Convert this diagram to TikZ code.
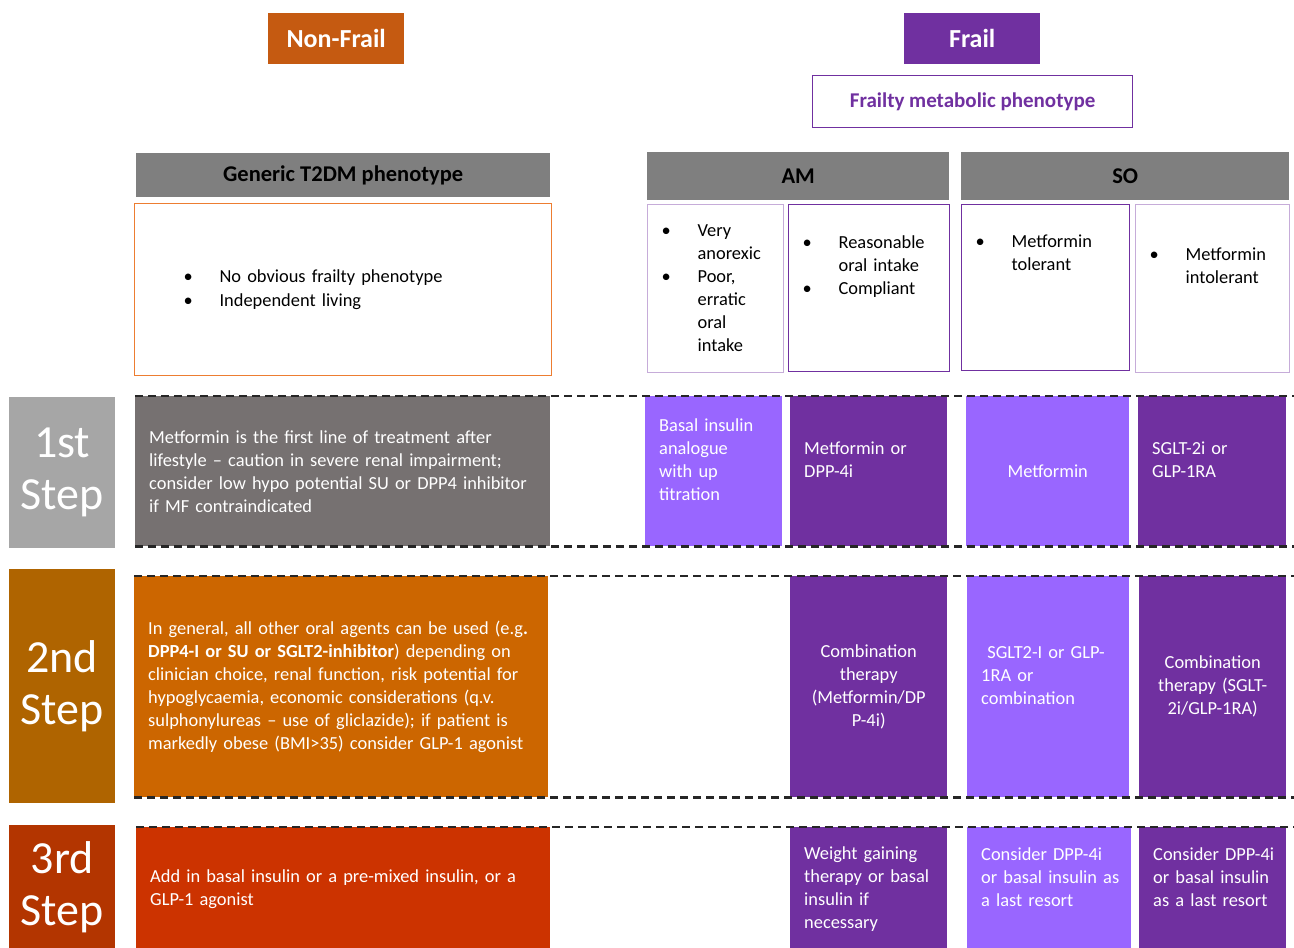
\documentclass[tikz,border=0pt]{standalone}
\usepackage{fontspec}
\setmainfont{Carlito}
\usepackage{tikz}
\usepackage{xcolor}

\definecolor{nfbrown}{HTML}{C55A11}
\definecolor{frailpurple}{HTML}{7030A0}
\definecolor{lightpurple}{HTML}{9966FF}
\definecolor{headgray}{HTML}{7F7F7F}
\definecolor{nfgray}{HTML}{767171}
\definecolor{nforange}{HTML}{CC6600}
\definecolor{nfred}{HTML}{CC3300}
\definecolor{stepgray}{HTML}{A6A6A6}
\definecolor{stepbrown}{HTML}{AF6400}
\definecolor{stepred}{HTML}{B33500}
\definecolor{boxorange}{HTML}{ED7D31}

\hyphenpenalty=10000
\exhyphenpenalty=10000
\newcommand{\bodyfont}{\fontsize{18.4}{23}\selectfont}
\newcommand{\bitem}[1]{\makebox[36pt][l]{\textbullet}#1}
\newcommand{\bcont}[1]{\hspace*{36pt}#1}

\begin{document}
\begin{tikzpicture}[x=1pt,y=-1pt]
\tikzstyle{cell} = [rectangle, anchor=north west, inner xsep=14pt, inner ysep=0pt,
align=left, font=\bodyfont, text=white]
\tikzstyle{light} = [cell, fill=lightpurple]
\tikzstyle{dark} = [cell, fill=frailpurple]
\tikzstyle{head} = [rectangle, anchor=north west, inner sep=0pt, fill=headgray,
font=\bfseries\fontsize{22.5}{27}\selectfont]
\tikzstyle{tag} = [rectangle, anchor=north west, inner sep=0pt, text=white,
font=\bfseries\fontsize{26}{31}\selectfont, minimum width=136pt, minimum height=51pt]
\tikzstyle{stepbox} = [rectangle, anchor=north west, inner sep=0pt, align=center, text=white,
font=\fontsize{46}{52}\selectfont, minimum width=106pt]
\tikzstyle{pheno} = [rectangle, anchor=north west, inner xsep=14pt, inner ysep=0pt,
align=left, font=\bodyfont, line width=1.2pt]
\tikzstyle{sep} = [draw=black!85, line width=2.6pt, dash pattern=on 8pt off 5pt]

\useasboundingbox (0,0) rectangle (1294,948);
\clip (0,0) rectangle (1294,948);
\coordinate (rim) at (1294,0);

% titles
\node[tag, fill=nfbrown] (nonfrail) at (268,13) {Non-Frail};
\node[tag, fill=frailpurple] (frail) at (904,13) {Frail};
\node[rectangle, anchor=north west, draw=frailpurple, line width=1.2pt, text=frailpurple,
font=\bfseries\fontsize{21}{25}\selectfont, minimum width=320pt, minimum height=52pt]
(fmp) at (812,75) {Frailty metabolic phenotype};

% phenotypes
\node[head, minimum width=414pt, minimum height=44pt] (generic) at (136,153) {Generic T2DM phenotype};
\node[head, minimum width=302pt, minimum height=48pt] (am) at (647,152) {AM};
\node[head, minimum width=328pt, minimum height=48pt] (so) at (961,152) {SO};

\node[pheno, draw=boxorange, inner xsep=49pt, text width=319pt, minimum width=417pt,
minimum height=172pt, font=\fontsize{18.4}{24}\selectfont] (genbox) at (134,203)
{\bitem{No obvious frailty phenotype}\\\bitem{Independent living}};
\node[pheno, draw=frailpurple!40, text width=108pt, minimum width=136pt, minimum height=168pt]
(amA) at (647,204)
{\bitem{Very}\\\bcont{anorexic}\\\bitem{Poor,}\\\bcont{erratic}\\\bcont{oral}\\\bcont{intake}};
\node[pheno, draw=frailpurple, text width=133pt, minimum width=161pt, minimum height=167pt]
(amB) at (788,204)
{\bitem{Reasonable}\\\bcont{oral intake}\\\bitem{Compliant}\\\strut\\\mbox{}};
\node[pheno, draw=frailpurple, text width=140pt, minimum width=168pt, minimum height=166pt]
(soA) at (961,204)
{\bitem{Metformin}\\\bcont{tolerant}\\\strut\\\strut\\\mbox{}};
\node[pheno, draw=frailpurple!40, text width=126pt, minimum width=154pt, minimum height=168pt]
(soB) at (1135,204)
{\bitem{Metformin}\\\bcont{intolerant}\\\strut\\\mbox{}};

% steps
\node[stepbox, fill=stepgray, minimum height=151pt] (st1) at (9,397) {1st\\Step};
\node[stepbox, fill=stepbrown, minimum height=234pt] (st2) at (9,569) {2nd\\Step};
\node[stepbox, fill=stepred, minimum height=125pt] (st3) at (9,825) {3rd\\Step};

% row 1
\node[cell, fill=nfgray, text width=387pt, minimum width=415pt, minimum height=150pt] (nf1) at (135,396)
{Metformin is the first line of treatment after\\lifestyle -- caution in severe renal impairment;\\consider low hypo potential SU or DPP4 inhibitor\\if MF contraindicated};
\node[light, text width=109pt, minimum width=137pt, minimum height=150pt] (am1r1) at (645,396)
{Basal insulin\\analogue\\with up\\titration\\\mbox{}};
\node[dark, text width=129pt, minimum width=157pt, minimum height=150pt] (am2r1) at (790,396)
{Metformin or\\DPP-4i\\\mbox{}};
\node[light, align=center, text width=135pt, minimum width=163pt, minimum height=150pt] (so1r1) at (966,396)
{Metformin};
\node[dark, text width=120pt, minimum width=148pt, minimum height=150pt] (so2r1) at (1138,396)
{SGLT-2i or\\GLP-1RA\\\mbox{}};

% row 2
\node[cell, fill=nforange, text width=386pt, minimum width=414pt, minimum height=221pt] (nf2) at (134,576)
{In general, all other oral agents can be used (e.g\textbf{.}\\\textbf{DPP4-I or SU or SGLT2-inhibitor}) depending on\\clinician choice, renal function, risk potential for\\hypoglycaemia, economic considerations (q.v.\\sulphonylureas -- use of gliclazide); if patient is\\markedly obese (BMI>35) consider GLP-1 agonist};
\node[dark, align=center, text width=129pt, minimum width=157pt, minimum height=221pt] (am2r2) at (790,576)
{Combination\\therapy\\(Metformin/DP\\P-4i)};
\node[light, text width=134pt, minimum width=162pt, minimum height=221pt] (so1r2) at (967,576)
{\ SGLT2-I or GLP-\\1RA or\\combination\\\mbox{}};
\node[dark, align=center, text width=119pt, minimum width=147pt, minimum height=221pt] (so2r2) at (1139,576)
{Combination\\therapy (SGLT-\\2i/GLP-1RA)};

% row 3
\node[cell, fill=nfred, text width=386pt, minimum width=414pt, minimum height=123pt] (nf3) at (136,827)
{Add in basal insulin or a pre-mixed insulin, or a\\GLP-1 agonist};
\node[dark, text width=129pt, minimum width=157pt, minimum height=123pt] (am2r3) at (790,827)
{Weight gaining\\therapy or basal\\insulin if\\necessary};
\node[light, text width=136pt, minimum width=164pt, minimum height=123pt] (so1r3) at (967,827)
{\mbox{Consider DPP-4i}\\\mbox{or basal insulin as}\\\mbox{a last resort}\\\mbox{}};
\node[dark, text width=119pt, minimum width=147pt, minimum height=123pt] (so2r3) at (1139,827)
{\mbox{Consider DPP-4i}\\\mbox{or basal insulin}\\\mbox{as a last resort}\\\mbox{}};

\tikzstyle{every path}=[sep]
\path (nf1.north west) -- (nf1.north west -| rim);
\path (nf1.south west) -- (nf1.south west -| rim);
\path (nf2.north west) -- (nf2.north west -| rim);
\path (nf2.south west) -- (nf2.south west -| rim);
\path (nf3.north west) -- (nf3.north west -| rim);

\end{tikzpicture}
\end{document}
